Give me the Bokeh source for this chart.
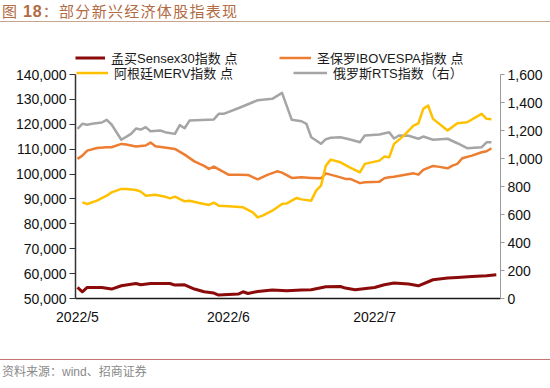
import pandas as pd
from bokeh.plotting import figure
from bokeh.layouts import column
from bokeh.models import (Range1d, LinearAxis, FixedTicker, NumeralTickFormatter,
                          CustomJSTickFormatter, Legend, LegendItem, Div)
from bokeh.embed import file_html
from bokeh.resources import INLINE

YEAR = "2022"

# 孟买Sensex30指数 点 (left axis)
sensex_dates = ["05-01", "05-02", "05-03", "05-06", "05-08", "05-10", "05-13", "05-14",
                "05-16", "05-20", "05-21", "05-23", "05-25", "05-27", "05-29", "05-30",
                "06-03", "06-04", "06-05", "06-07", "06-10", "06-13", "06-16", "06-18",
                "06-21", "06-24", "06-25", "06-27", "07-01", "07-03", "07-05", "07-08",
                "07-10", "07-13", "07-16", "07-18", "07-21", "07-24", "07-26"]
sensex_values = [54430, 52700, 54430, 54430, 53790, 55110, 56040, 55520,
                 56040, 56040, 55400, 55520, 53790, 52700, 52180, 51370,
                 51780, 52700, 52020, 52820, 53380, 53100, 53380, 53500,
                 54710, 54830, 54190, 53500, 54430, 55520, 56200, 55800,
                 55110, 57530, 58210, 58450, 58860, 59140, 59540]

# 圣保罗IBOVESPA指数 点 (left axis)
ibov_dates = ["05-01", "05-02", "05-03", "05-05", "05-07", "05-08", "05-10", "05-11",
              "05-13", "05-15", "05-16", "05-17", "05-20", "05-21", "05-23", "05-25",
              "05-27", "05-28", "05-29", "06-01", "06-03", "06-05", "06-07", "06-09",
              "06-11", "06-12", "06-14", "06-16", "06-18", "06-20", "06-21", "06-24",
              "06-25", "06-26", "06-28", "06-29", "07-02", "07-03", "07-04", "07-05",
              "07-09", "07-10", "07-11", "07-13", "07-14", "07-16", "07-17", "07-18",
              "07-19", "07-21", "07-23", "07-24", "07-25"]
ibov_values = [106100, 107400, 109400, 110500, 110750, 110750, 112100, 111850,
               111050, 111450, 112650, 111150, 110350, 110100, 107800, 105100,
               103270, 102060, 102990, 99770, 99770, 99650, 97880, 99650,
               101100, 100580, 98440, 98680, 98440, 98280, 100290, 98680,
               98040, 98040, 96350, 96670, 96950, 98280, 98680, 98960,
               100290, 99770, 101660, 103270, 102990, 102300, 103390, 104080,
               106330, 107410, 108740, 109140, 110350]

# 阿根廷MERV指数 点 (left axis)
merv_dates = ["05-02", "05-03", "05-05", "05-07", "05-08", "05-10", "05-11", "05-13",
              "05-14", "05-15", "05-17", "05-19", "05-20", "05-21", "05-23", "05-24",
              "05-26", "05-28", "05-29", "05-30", "06-01", "06-04", "06-06", "06-07",
              "06-08", "06-10", "06-12", "06-13", "06-15", "06-16", "06-18", "06-19",
              "06-20", "06-21", "06-22", "06-24", "06-26", "06-28", "06-29", "07-02",
              "07-03", "07-04", "07-05", "07-07", "07-09", "07-10", "07-11", "07-12",
              "07-13", "07-16", "07-18", "07-20", "07-23", "07-24", "07-25"]
merv_values = [88630, 87980, 89310, 91320, 92650, 94020, 94020, 93610,
               92930, 91320, 91720, 90920, 90240, 90920, 89030, 89310,
               88390, 87580, 88500, 87300, 87020, 86620, 84600, 82590,
               83280, 85290, 87980, 88220, 90400, 89830, 89310, 93330,
               95340, 103400, 105800, 104720, 102590, 100700, 104080, 105400,
               107010, 106730, 112120, 115460, 119480, 120400, 126200, 127530,
               122180, 117470, 120400, 120810, 124190, 122180, 122020]

# 俄罗斯RTS指数（右） (right axis)
rts_dates = ["05-01", "05-02", "05-03", "05-04", "05-06", "05-07", "05-08", "05-10",
             "05-12", "05-13", "05-14", "05-15", "05-16", "05-18", "05-19", "05-21",
             "05-22", "05-23", "05-24", "05-29", "05-30", "05-31", "06-03", "06-06",
             "06-07", "06-10", "06-12", "06-14", "06-16", "06-17", "06-18", "06-20",
             "06-21", "06-22", "06-24", "06-26", "06-28", "06-29", "07-02", "07-04",
             "07-05", "07-06", "07-08", "07-10", "07-11", "07-13", "07-16", "07-18",
             "07-20", "07-23", "07-24", "07-25"]
rts_values = [1212, 1248, 1241, 1248, 1257, 1276, 1243, 1134,
              1176, 1214, 1207, 1224, 1195, 1200, 1188, 1176,
              1238, 1216, 1271, 1279, 1319, 1319, 1359, 1402,
              1416, 1426, 1469, 1276, 1266, 1248, 1152, 1105,
              1138, 1148, 1152, 1136, 1116, 1164, 1171, 1188,
              1143, 1164, 1162, 1141, 1157, 1134, 1141, 1109,
              1074, 1081, 1116, 1116]

month_ticks = ["2022-05-01", "2022-06-01", "2022-07-01"]
left_ticks = [50000, 60000, 70000, 80000, 90000, 100000, 110000, 120000, 130000, 140000]
right_ticks = [0, 200, 400, 600, 800, 1000, 1200, 1400, 1600]
left_min, left_max = 50000, 140000
right_min, right_max = 0, 1600

series_labels = ["孟买Sensex30指数 点", "圣保罗IBOVESPA指数 点", "阿根廷MERV指数 点", "俄罗斯RTS指数（右）"]
title_lead, title_num, title_rest = "图 ", "18", "：部分新兴经济体股指表现"
source_text = "资料来源：wind、招商证券"


def to_dt(ds):
    return pd.to_datetime([f"{YEAR}-{d}" for d in ds])


def ms(ts):
    return pd.Timestamp(ts).value / 1e6


W = 550
TITLE_H = 23
FIG_H = 327
SRC_H = 388 - TITLE_H - FIG_H

# frame geometry (page pixels): left 75, right 500, top 40, bottom 298;
# value axes span 74..298
frame_top, frame_bottom, axis_top = 40, 298, 74
scale = (frame_bottom - frame_top) / (frame_bottom - axis_top)

DAY = 86400000.0
x_start = ms("2022-05-01") - 0.41 * DAY
x_end = ms("2022-05-01") + 86.86 * DAY

p = figure(width=W, height=FIG_H, output_backend="svg", toolbar_location=None,
           x_axis_type="datetime",
           x_range=Range1d(x_start, x_end),
           y_range=Range1d(left_min, left_min + (left_max - left_min) * scale),
           min_border_left=75, min_border_right=W - 500,
           min_border_top=frame_top - TITLE_H, min_border_bottom=TITLE_H + FIG_H - frame_bottom,
           margin=0)
p.extra_y_ranges = {"rts": Range1d(right_min, right_min + (right_max - right_min) * scale)}
p.outline_line_color = None
p.xgrid.visible = False
p.ygrid.visible = False
p.background_fill_color = "white"
p.border_fill_color = "white"

AXIS_FONT = "Liberation Sans"
LEG_FONT = "Liberation Sans, Noto Sans CJK SC"

# x axis
xa = p.xaxis[0]
xa.ticker = FixedTicker(ticks=[ms(t) for t in month_ticks])
xa.formatter = CustomJSTickFormatter(
    code="const d = new Date(tick); return d.getUTCFullYear() + '/' + (d.getUTCMonth() + 1);")
xa.major_tick_out = 0
xa.major_tick_in = 0
xa.minor_tick_out = 0
xa.minor_tick_in = 0
xa.axis_line_color = "#1a1a1a"
xa.axis_line_width = 1.5
xa.major_label_standoff = 10
xa.major_label_text_font = AXIS_FONT
xa.major_label_text_font_size = "14px"
xa.major_label_text_color = "#111111"

# left axis
ya = p.yaxis[0]
ya.ticker = FixedTicker(ticks=left_ticks)
ya.formatter = NumeralTickFormatter(format="0,0")
ya.bounds = (left_min, left_max)
ya.major_tick_out = 6
ya.major_tick_in = 0
ya.minor_tick_out = 0
ya.minor_tick_in = 0
ya.axis_line_color = "#333333"
ya.axis_line_width = 1.5
ya.major_tick_line_color = "#333333"
ya.major_label_standoff = 3
ya.major_label_text_font = AXIS_FONT
ya.major_label_text_font_size = "14px"
ya.major_label_text_color = "#111111"

# right axis
ra = LinearAxis(y_range_name="rts", ticker=FixedTicker(ticks=right_ticks),
                formatter=NumeralTickFormatter(format="0,0"), bounds=(right_min, right_max))
ra.major_tick_out = 4
ra.major_tick_in = 0
ra.minor_tick_out = 0
ra.minor_tick_in = 0
ra.axis_line_color = "#9a9a9a"
ra.axis_line_width = 1
ra.major_tick_line_color = "#9a9a9a"
ra.major_label_standoff = 3
ra.major_label_text_font = AXIS_FONT
ra.major_label_text_font_size = "14px"
ra.major_label_text_color = "#111111"
p.add_layout(ra, "right")

colors = ["#8b0a0a", "#ed7d31", "#ffc000", "#a5a5a5"]

r_rts = p.line(to_dt(rts_dates), rts_values, y_range_name="rts", line_color=colors[3],
               line_width=2.5, line_join="round")
r_ibov = p.line(to_dt(ibov_dates), ibov_values, line_color=colors[1], line_width=2.5,
                line_join="round")
r_merv = p.line(to_dt(merv_dates), merv_values, line_color=colors[2], line_width=2.5,
                line_join="round")
r_sensex = p.line(to_dt(sensex_dates), sensex_values, line_color=colors[0], line_width=3,
                  line_join="round")

# legend boxes: (x from frame left, y of box bottom above frame bottom)
legend_specs = [
    (r_sensex, series_labels[0], (0, 231.5), 30),
    (r_ibov, series_labels[1], (204, 231.5), 32),
    (r_merv, series_labels[2], (1, 216.5), 32),
    (r_rts, series_labels[3], (218, 216.5), 34),
]
for rend, lab, loc, gw in legend_specs:
    lg = Legend(items=[LegendItem(label=lab, renderers=[rend])], location=loc,
                padding=0, margin=0, spacing=0, glyph_width=gw, glyph_height=15,
                label_height=15, label_standoff=6, border_line_color=None,
                background_fill_alpha=0, label_text_font=LEG_FONT,
                label_text_font_size="13px", label_text_color="#1a1a1a")
    p.add_layout(lg, "center")

TITLE_COLOR = "#b26b43"
title_div = Div(width=W, height=TITLE_H, margin=0, text=(
    f'<div style="width:{W}px;height:{TITLE_H - 1}px;border-bottom:1px solid #c9a48c;'
    f'color:{TITLE_COLOR};font-family:\'Noto Sans CJK SC\';font-size:15px;line-height:{TITLE_H - 1}px;'
    f'letter-spacing:1.3px;padding-left:2px;white-space:nowrap;box-sizing:border-box;margin:0;">'
    f'{title_lead}<b style="font-family:\'Liberation Sans\';font-size:16px;letter-spacing:1px;">{title_num}</b>'
    f'{title_rest}</div>'))

source_div = Div(width=W, height=SRC_H, margin=0, text=(
    f'<div style="width:{W}px;margin:0;margin-top:{359 - TITLE_H - FIG_H}px;border-top:1.5px solid #c87470;'
    f'box-sizing:border-box;padding-top:4px;padding-left:2px;color:#8a8a8a;'
    f'font-family:\'Liberation Sans\',\'Noto Sans CJK SC\';font-size:12px;line-height:16px;white-space:nowrap;">'
    f'{source_text}</div>'))

layout = column(title_div, p, source_div, spacing=0, margin=0)

open("out.html", "w").write(file_html(layout, INLINE))
